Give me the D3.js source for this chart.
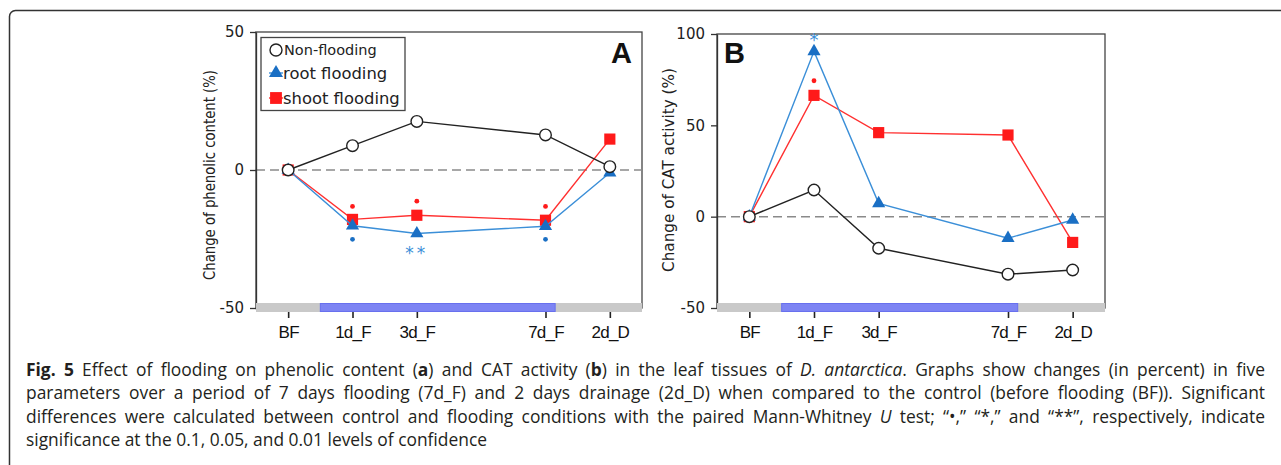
<!DOCTYPE html>
<html>
<head>
<meta charset="utf-8">
<script src="https://cdn.jsdelivr.net/npm/d3@7"></script>
<style>
body { margin: 0; background: #fff; }
#wrap { position: relative; width: 1281px; height: 465px; overflow: hidden; }
svg { position: absolute; left: 0; top: 0; }
#caption { position: absolute; left: 26px; top: 0; width: 1239px; font-family: "Open Sans", sans-serif; font-size: 17.4px; color: #231f20; }
.cline { position: absolute; left: 0; white-space: nowrap; line-height: 22px; }
</style>
</head>
<body>
<div id="wrap">
  <svg id="chart" width="1281" height="465"></svg>
  <div id="caption"></div>
</div>
<script>
// time points and their place on the day axis
const timePoints = ["BF", "1d_F", "3d_F", "7d_F", "2d_D"];
const timeSteps = [0, 1, 2, 4, 5];
const floodPeriod = [0.5, 4.15];
const seriesNames = ["Non-flooding", "root flooding", "shoot flooding"];

// panel A: phenolic content (%)
const phenolicNon = [0, 8.8, 17.6, 12.7, 1.2];
const phenolicRoot = [0, -20.2, -23, -20.4, -1];
const phenolicShoot = [0, -17.9, -16.4, -18.2, 11.2];
const yTicksA = [-50, 0, 50];

// panel B: CAT activity (%)
const catNon = [0, 14.6, -17.3, -31.5, -29.2];
const catRoot = [0, 90.5, 7.3, -11.8, -1.8];
const catShoot = [0, 66.4, 46, 44.7, -14.1];
const yTicksB = [-50, 0, 50, 100];

// significance marks: [series, time index, value, mark]
const sigA = [
    ["shoot", 1, -13.2, "dot"], ["shoot", 2, -11.3, "dot"], ["shoot", 3, -13.2, "dot"],
    ["root", 1, -25.1, "dot"], ["root", 3, -25.1, "dot"], ["root", 2, -28.9, "**"]
];
const sigB = [
    ["root", 1, 99, "*"], ["shoot", 1, 74.4, "dot"]
];

const colors = { non: "#222", root: "#1a6fc4", shoot: "#ff1a1a" };
const lineColors = { non: "#222", root: "#3b8fd8", shoot: "#ff3030" };

const svg = d3.select("#chart");

// outer figure frame (runs off the right and bottom)
svg.append("rect")
    .attr("x", 9.5).attr("y", 10.5)
    .attr("width", 1300).attr("height", 500)
    .attr("rx", 6)
    .attr("fill", "none").attr("stroke", "#333").attr("stroke-width", 1.5);

function drawPanel(cfg) {
    const g = svg.append("g");
    const x = d3.scaleLinear().domain([-0.5, 5.5]).range(cfg.xRange);
    const y = d3.scaleLinear().domain([cfg.yTicks[0], cfg.yTicks[cfg.yTicks.length - 1]]).range(cfg.yRange);
    const [x0, x1] = cfg.xRange;
    const [yb, yt] = cfg.yRange;

    // plot frame
    g.append("rect")
        .attr("x", x0).attr("y", yt)
        .attr("width", x1 - x0).attr("height", yb - yt)
        .attr("fill", "none").attr("stroke", "#444").attr("stroke-width", 1.3);

    // zero line
    g.append("line")
        .attr("x1", x0).attr("x2", x1)
        .attr("y1", y(0)).attr("y2", y(0))
        .attr("stroke", "#8a8a8a").attr("stroke-width", 1.5)
        .attr("stroke-dasharray", "9,5");

    // y axis
    const yAxis = g.append("g")
        .attr("transform", `translate(${x0},0)`)
        .call(d3.axisLeft(y).tickValues(cfg.yTicks).tickFormat(d => String(d))
            .tickSize(6).tickSizeOuter(0).tickPadding(6));
    yAxis.select(".domain").attr("stroke", "#333").attr("stroke-width", 1.3);
    yAxis.selectAll(".tick line").attr("stroke", "#333").attr("stroke-width", 1.3);
    yAxis.selectAll("text")
        .attr("font-family", "DejaVu Sans").attr("font-size", 15).attr("fill", "#222");

    // y title
    g.append("text")
        .attr("transform", `translate(${cfg.titleX},${cfg.titleY}) rotate(-90)`)
        .attr("text-anchor", "middle")
        .attr("dy", "0.35em")
        .attr("font-family", "DejaVu Sans Condensed, DejaVu Sans")
        .attr("font-stretch", "condensed")
        .attr("font-size", 16.5).attr("fill", "#222")
        .attr("textLength", cfg.titleLen).attr("lengthAdjust", "spacingAndGlyphs")
        .text(cfg.title);

    // x axis ticks and labels
    const xAxis = g.append("g")
        .attr("transform", `translate(0,${yb + 4})`)
        .call(d3.axisBottom(x).tickValues(timeSteps).tickFormat((d, i) => timePoints[i]).tickSize(6).tickPadding(8));
    xAxis.select(".domain").remove();
    xAxis.selectAll(".tick line").attr("stroke", "#222").attr("stroke-width", 1.6);
    xAxis.selectAll("text")
        .attr("font-family", "Liberation Sans").attr("font-size", 17)
        .attr("letter-spacing", "-0.8").attr("fill", "#111");

    // gray base band and blue flooding period
    g.append("rect")
        .attr("x", x0).attr("y", yb - 5)
        .attr("width", x1 - x0).attr("height", 9)
        .attr("fill", "#c9c9c9");
    g.append("rect")
        .attr("x", x(floodPeriod[0])).attr("y", yb - 4.5)
        .attr("width", x(floodPeriod[1]) - x(floodPeriod[0])).attr("height", 8)
        .attr("fill", "#7d84f3").attr("stroke", "#6870ee").attr("stroke-width", 1);

    const line = d3.line().x((d, i) => x(timeSteps[i])).y(d => y(d));

    const series = [
        { key: "shoot", values: cfg.shoot },
        { key: "root", values: cfg.root },
        { key: "non", values: cfg.non }
    ];
    series.forEach(s => {
        g.append("path")
            .datum(s.values)
            .attr("d", line)
            .attr("fill", "none")
            .attr("stroke", lineColors[s.key])
            .attr("stroke-width", 1.4);
        const pts = g.selectAll(null).data(s.values).enter();
        if (s.key === "non") {
            pts.append("circle")
                .attr("cx", (d, i) => x(timeSteps[i])).attr("cy", d => y(d))
                .attr("r", 5.8).attr("fill", "#fff")
                .attr("stroke", "#222").attr("stroke-width", 1.4);
        } else {
            pts.append("path")
                .attr("d", d3.symbol().type(s.key === "root" ? d3.symbolTriangle : d3.symbolSquare).size(s.key === "root" ? 75 : 125))
                .attr("transform", (d, i) => `translate(${x(timeSteps[i])},${y(d)})`)
                .attr("fill", colors[s.key]);
        }
    });

    // significance marks
    cfg.sig.forEach(([key, idx, v, mark]) => {
        if (mark === "dot") {
            g.append("circle")
                .attr("cx", x(timeSteps[idx])).attr("cy", y(v))
                .attr("r", 2.4).attr("fill", colors[key]);
        } else {
            g.append("text")
                .attr("x", x(timeSteps[idx])).attr("y", y(v))
                .attr("dy", "0.55em")
                .attr("text-anchor", "middle")
                .attr("font-family", "DejaVu Sans").attr("font-size", mark === "*" ? 18 : 17)
                .attr("letter-spacing", mark === "**" ? 3 : 0)
                .attr("fill", "#3b8fd8")
                .text(mark);
        }
    });

    // panel letter
    g.append("text")
        .attr("x", cfg.letterX).attr("y", 63)
        .attr("font-family", "Liberation Sans").attr("font-weight", "bold")
        .attr("font-size", 29).attr("fill", "#111")
        .text(cfg.letter);

    return g;
}

const gA = drawPanel({
    xRange: [256, 642], yRange: [308, 32], yTicks: yTicksA,
    non: phenolicNon, root: phenolicRoot, shoot: phenolicShoot,
    sig: sigA, title: "Change of phenolic content (%)", titleX: 209, titleY: 175, titleLen: 210,
    letter: "A", letterX: 611
});

drawPanel({
    xRange: [717, 1105], yRange: [308, 34], yTicks: yTicksB,
    non: catNon, root: catRoot, shoot: catShoot,
    sig: sigB, title: "Change of CAT activity (%)", titleX: 668, titleY: 170, titleLen: 204,
    letter: "B", letterX: 724
});

// legend in panel A
const leg = gA.append("g");
leg.append("rect")
    .attr("x", 261).attr("y", 37.5).attr("width", 144).attr("height", 73)
    .attr("fill", "#fff").attr("stroke", "#444").attr("stroke-width", 1.3);
const legY = [50, 73, 98];
const legKeys = ["non", "root", "shoot"];
legKeys.forEach((k, i) => {
    if (k === "non") {
        leg.append("circle").attr("cx", 276).attr("cy", legY[i]).attr("r", 6)
            .attr("fill", "#fff").attr("stroke", "#222").attr("stroke-width", 1.4);
    } else {
        leg.append("line").attr("x1", 269).attr("x2", 283)
            .attr("y1", legY[i]).attr("y2", legY[i])
            .attr("stroke", lineColors[k]).attr("stroke-width", 1.4);
        leg.append("path")
            .attr("d", d3.symbol().type(k === "root" ? d3.symbolTriangle : d3.symbolSquare).size(k === "root" ? 85 : 140))
            .attr("transform", `translate(276,${legY[i]})`)
            .attr("fill", colors[k]);
    }
    leg.append("text")
        .attr("x", k === "non" ? 284 : 283).attr("y", legY[i]).attr("dy", "0.36em")
        .attr("font-family", "DejaVu Sans").attr("font-size", k === "non" ? 14.5 : 16.4)
        .attr("fill", "#222")
        .text(seriesNames[i]);
});

// caption, each line justified to the full width
const captionLines = [
    '<b>Fig. 5</b> Effect of flooding on phenolic content (<b>a</b>) and CAT activity (<b>b</b>) in the leaf tissues of <i>D. antarctica</i>. Graphs show changes (in percent) in five',
    'parameters over a period of 7 days flooding (7d_F) and 2 days drainage (2d_D) when compared to the control (before flooding (BF)). Significant',
    'differences were calculated between control and flooding conditions with the paired Mann-Whitney <i>U</i> test; \u201c\u2022,\u201d \u201c*,\u201d and \u201c**\u201d, respectively, indicate',
    'significance at the 0.1, 0.05, and 0.01 levels of confidence'
];
const captionBase = [373.5, 397, 420.5, 444];
const cap = document.getElementById("caption");
captionLines.forEach((html, i) => {
    const div = document.createElement("div");
    div.className = "cline";
    div.innerHTML = html;
    cap.appendChild(div);
    div.style.top = (captionBase[i] - 16) + "px";
    if (i < captionLines.length - 1) {
        const spaces = (div.textContent.match(/ /g) || []).length;
        const natural = div.getBoundingClientRect().width;
        div.style.wordSpacing = ((1239 - natural) / spaces) + "px";
    }
});
</script>
</body>
</html>
